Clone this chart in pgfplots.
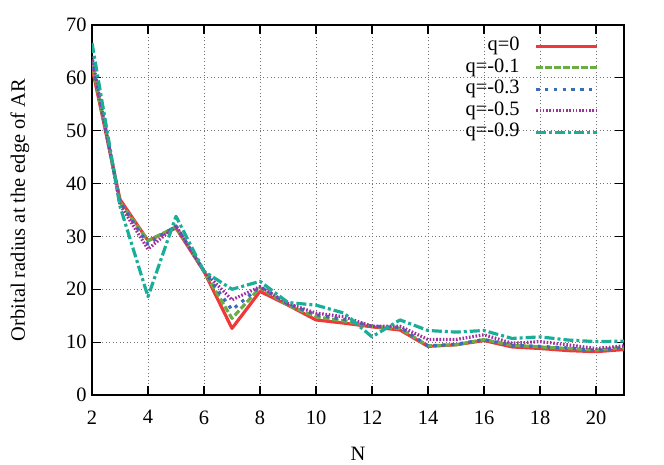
\documentclass[border=0pt]{standalone}
\usepackage{pgfplots}
\pgfplotsset{compat=1.18}
\usepackage{fontspec}
\setmainfont{Liberation Serif}
\definecolor{cred}{RGB}{240,55,58}
\definecolor{cgreen}{RGB}{106,173,71}
\definecolor{cblue}{RGB}{60,109,182}
\definecolor{cpurple}{RGB}{160,48,160}
\definecolor{cteal}{RGB}{26,174,152}
\begin{document}
\begin{tikzpicture}
\begin{axis}[
  scale only axis, width=532bp, height=370bp,
  xmin=2, xmax=21, ymin=0, ymax=70,
  xtick={2,4,...,20}, ytick={0,10,...,70},
  tick align=inside, major tick length=9bp,
  tick style={black, line width=1.2pt},
  axis line style={black, line width=1.5pt},
  grid=major, grid style={black!55, dash pattern=on 1bp off 2.5bp, line width=0.8pt},
  /pgf/number format/assume math mode=true,
  tick label style={font=\fontsize{20.5}{22}\selectfont},
  yticklabel style={xshift=-2bp},
  xticklabel style={yshift=-12bp},
  xlabel={N}, ylabel={Orbital radius at the edge of AR},
  xlabel style={font=\fontsize{20.5}{22}\selectfont, at={(axis description cs:0.5,0)}, anchor=base, yshift=-65bp},
  ylabel style={font=\fontsize{20.5}{22}\selectfont, at={(axis description cs:-0.126,0.5)}, anchor=base, rotate=0},
  legend style={draw=none, fill=none, inner sep=0pt, at={(0.953,0.972)}, anchor=north east,
    font=\fontsize{20.5}{22}\selectfont, row sep=0pt, column sep=0pt,
    nodes={inner sep=0pt, text height=15bp, text depth=6.5bp}},
  legend plot pos=right, legend cell align=right,
  legend image code/.code={\path (0bp,0bp); \draw[#1] (15bp,0bp) -- (76bp,0bp);},
  every axis plot/.append style={line width=3.2pt, line join=round},
]
\addplot[cred, solid] coordinates {(2,62) (3,37) (4,29.2) (5,31.6) (6,23.4) (7,12.6) (8,19.6) (9,17) (10,14.2) (11,13.6) (12,12.9) (13,12.3) (14,9.2) (15,9.5) (16,10.3) (17,9.1) (18,8.8) (19,8.4) (20,8.2) (21,8.6)};
\addplot[cgreen, dash pattern=on 6.5bp off 2.5bp] coordinates {(2,63) (3,36.5) (4,29.2) (5,31.8) (6,23.4) (7,14.5) (8,20.3) (9,17) (10,14.8) (11,14) (12,13) (13,12.6) (14,9.3) (15,9.5) (16,10.5) (17,9.4) (18,9.1) (19,8.8) (20,8.5) (21,9.0)};
\addplot[cblue, dash pattern=on 3.3bp off 5.5bp] coordinates {(2,63.5) (3,36.5) (4,28.5) (5,32) (6,23.4) (7,16.1) (8,20.5) (9,17.2) (10,15.2) (11,14.3) (12,13) (13,12.8) (14,9.3) (15,9.6) (16,10.5) (17,9.4) (18,9.2) (19,8.9) (20,8.4) (21,9.0)};
\addplot[cpurple, dash pattern=on 1.6bp off 1.7bp] coordinates {(2,64) (3,36) (4,27.6) (5,32) (6,23.4) (7,18) (8,20.5) (9,17.3) (10,15.5) (11,14.8) (12,13) (13,13) (14,10.5) (15,10.5) (16,11.4) (17,9.8) (18,10.1) (19,9.5) (20,8.8) (21,9.3)};
\addplot[cteal, dash pattern=on 10bp off 3bp on 3bp off 3bp] coordinates {(2,66.6) (3,35.7) (4,18.6) (5,33.8) (6,23.4) (7,20) (8,21.5) (9,17.5) (10,17) (11,15.5) (12,11) (13,14.2) (14,12.2) (15,11.9) (16,12.2) (17,10.7) (18,11.0) (19,10.4) (20,10.1) (21,10.2)};
\legend{q=0,q=-0.1,q=-0.3,q=-0.5,q=-0.9}
\end{axis}
\pgfresetboundingbox
\useasboundingbox (current axis.south west) ++(-92bp,-70bp) rectangle ++(664bp,465bp);
\end{tikzpicture}
\end{document}
